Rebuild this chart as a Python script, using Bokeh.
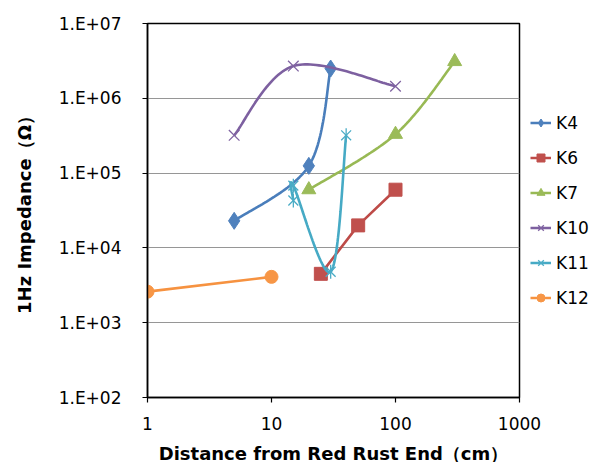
import numpy as np
from bokeh.plotting import figure
from bokeh.models import FixedTicker, CustomJSTickFormatter, Legend, LegendItem
from bokeh.embed import file_html
from bokeh.resources import INLINE

# ---- data ----
series_names = ["K4", "K6", "K7", "K10", "K11", "K12"]
k4_x = [5, 20, 30]
k4_y = [23000, 125000, 2.5e6]
k6_x = [25, 50, 100]
k6_y = [4500, 20000, 60000]
k7_x = [20, 100, 300]
k7_y = [60000, 330000, 3.1e6]
k10_x = [5, 15, 100]
k10_y = [320000, 2.7e6, 1.45e6]
k11_x = [15, 15, 30, 40]
k11_y = [43000, 68000, 4800, 320000]
k12_x = [1, 10]
k12_y = [2600, 4100]
x_ticks = [1, 10, 100, 1000]
y_ticks = [1e2, 1e3, 1e4, 1e5, 1e6, 1e7]

line_colors = ["#4A7EBB", "#BE4B48", "#98B954", "#7D60A0", "#46AAC5", "#F69240"]
fill_colors = ["#4F81BD", "#C0504D", "#9BBB59", "#8064A2", "#4BACC6", "#F79646"]
smooth = [True, False, True, True, True, False]


def smooth_curve(xs, ys, n=40):
    # Catmull-Rom style Bezier spline in log-log space (like Excel smoothed lines)
    lx = np.log10(np.asarray(xs, float))
    ly = np.log10(np.asarray(ys, float))
    P = np.stack([lx, ly], axis=1)
    m = len(P)
    out = []
    for i in range(m - 1):
        p0 = P[i - 1] if i > 0 else P[i]
        p1 = P[i]
        p2 = P[i + 1]
        p3 = P[i + 2] if i + 2 < m else P[i + 1]
        c1 = p1 + (p2 - p0) / 6.0
        c2 = p2 - (p3 - p1) / 6.0
        t = np.linspace(0, 1, n)[:, None]
        seg = ((1 - t) ** 3) * p1 + 3 * ((1 - t) ** 2) * t * c1 + 3 * (1 - t) * t ** 2 * c2 + t ** 3 * p2
        out.append(seg if i == 0 else seg[1:])
    pts = np.concatenate(out)
    return 10 ** pts[:, 0], 10 ** pts[:, 1]


p = figure(frame_width=372, frame_height=374, x_axis_type="log", y_axis_type="log",
           x_range=(1, 1000), y_range=(100, 1e7),
           output_backend="svg", toolbar_location=None,
           min_border_left=147, min_border_right=0, min_border_top=23, min_border_bottom=65)

p.background_fill_color = "white"
p.border_fill_color = "white"
p.outline_line_color = "black"
p.outline_line_width = 1.5
p.xgrid.visible = False
p.ygrid.ticker = FixedTicker(ticks=y_ticks)
p.ygrid.grid_line_color = "#969696"
p.ygrid.grid_line_width = 1.2

tick_font = "DejaVu Sans"
for ax in (p.xaxis[0], p.yaxis[0]):
    ax.axis_line_color = "black"
    ax.axis_line_width = 1.5
    ax.major_tick_line_color = "black"
    ax.major_tick_line_width = 1.2
    ax.major_tick_in = 0
    ax.major_tick_out = 5
    ax.minor_tick_line_color = None
    ax.major_label_text_font = tick_font
    ax.major_label_text_font_size = "17px"
    ax.major_label_text_color = "black"
    ax.axis_label_text_font = tick_font
    ax.axis_label_text_font_style = "bold"
    ax.axis_label_text_font_size = "18px"
    ax.axis_label_text_color = "black"

p.xaxis.ticker = FixedTicker(ticks=x_ticks)
p.yaxis.ticker = FixedTicker(ticks=y_ticks)
p.xaxis.formatter = CustomJSTickFormatter(code="return String(Math.round(tick));")
p.yaxis.formatter = CustomJSTickFormatter(
    code="var e = Math.round(Math.log10(tick)); return '1.E+' + (e < 10 ? '0' : '') + e;")
p.xaxis.major_label_standoff = 14
p.yaxis.major_label_standoff = 21
p.xaxis.axis_label = "Distance from Red Rust End（cm）"
p.yaxis.axis_label = "1Hz Impedance（Ω）"
p.xaxis.axis_label_standoff = 10
p.yaxis.axis_label_standoff = 21

xs_all = [k4_x, k6_x, k7_x, k10_x, k11_x, k12_x]
ys_all = [k4_y, k6_y, k7_y, k10_y, k11_y, k12_y]
markers = ["diamond", "square", "triangle", "x", "x", "circle"]
sizes = [17, 13, 14, 15, 14, 13]

items = []
for i, name in enumerate(series_names):
    xs, ys = xs_all[i], ys_all[i]
    if smooth[i] and len(xs) > 2:
        lx, ly = smooth_curve(xs, ys)
    else:
        lx, ly = xs, ys
    lr = p.line(lx, ly, line_color=line_colors[i], line_width=2.6)
    rs = [lr]
    if markers[i] in ("x",):
        mr = p.scatter(xs, ys, marker="x", size=sizes[i], line_color=fill_colors[i], line_width=1.3)
        rs.append(mr)
        if name == "K11":
            mr2 = p.scatter(xs, ys, marker="dash", angle=np.pi / 2, size=sizes[i],
                            line_color=fill_colors[i], line_width=1.3)
            rs.append(mr2)
    else:
        mr = p.scatter(xs, ys, marker=markers[i], size=sizes[i], fill_color=fill_colors[i],
                       line_color=fill_colors[i], line_width=1)
        rs.append(mr)
    items.append(LegendItem(label=name, renderers=rs))

legend = Legend(items=items, location="center_left")
legend.border_line_color = None
legend.background_fill_alpha = 0
legend.label_text_font = tick_font
legend.label_text_font_size = "17px"
legend.label_text_color = "black"
legend.glyph_width = 21
legend.glyph_height = 20
legend.label_height = 20
legend.label_standoff = 5
legend.spacing = 15
legend.padding = 6
legend.margin = 11
p.add_layout(legend, "right")

open("out.html", "w").write(file_html(p, INLINE))
